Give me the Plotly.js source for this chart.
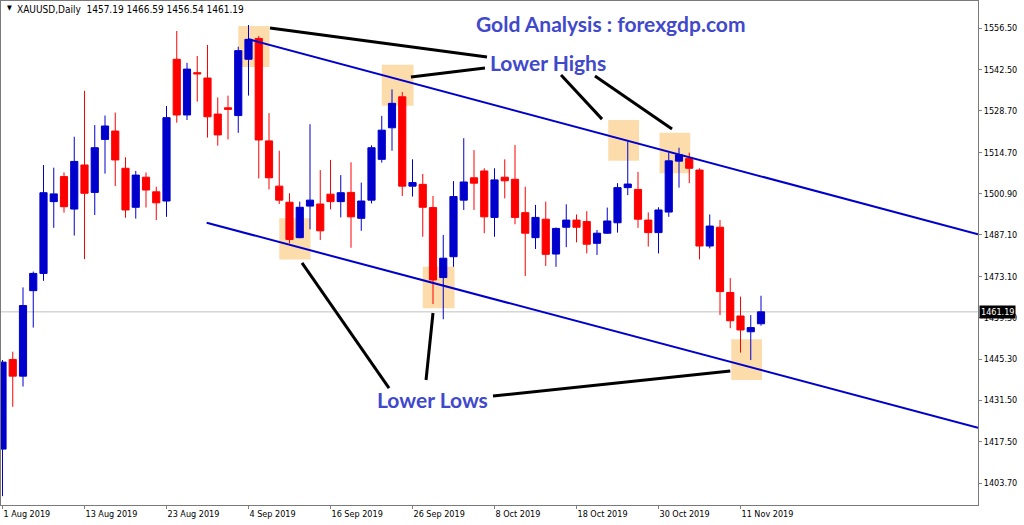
<!DOCTYPE html>
<html><head><meta charset="utf-8">
<script src="https://cdn.plot.ly/plotly-3.0.1.min.js"></script>
<style>html,body{margin:0;padding:0;background:#fff}#chart{width:1024px;height:525px}</style>
</head><body><div id="chart"></div>
<script>
const dates = ['2019-08-01','2019-08-02','2019-08-05','2019-08-06','2019-08-07','2019-08-08','2019-08-09',
  '2019-08-12','2019-08-13','2019-08-14','2019-08-15','2019-08-16','2019-08-19','2019-08-20','2019-08-21',
  '2019-08-22','2019-08-23','2019-08-26','2019-08-27','2019-08-28','2019-08-29','2019-08-30','2019-09-02',
  '2019-09-03','2019-09-04','2019-09-05','2019-09-06','2019-09-09','2019-09-10','2019-09-11','2019-09-12',
  '2019-09-13','2019-09-16','2019-09-17','2019-09-18','2019-09-19','2019-09-20','2019-09-23','2019-09-24',
  '2019-09-25','2019-09-26','2019-09-27','2019-09-30','2019-10-01','2019-10-02','2019-10-03','2019-10-04',
  '2019-10-07','2019-10-08','2019-10-09','2019-10-10','2019-10-11','2019-10-14','2019-10-15','2019-10-16',
  '2019-10-17','2019-10-18','2019-10-21','2019-10-22','2019-10-23','2019-10-24','2019-10-25','2019-10-28',
  '2019-10-29','2019-10-30','2019-10-31','2019-11-01','2019-11-04','2019-11-05','2019-11-06','2019-11-07',
  '2019-11-08','2019-11-11','2019-11-12','2019-11-13'];
const opens = [1415.1,1445.2,1439.6,1468.3,1474.1,1498.2,1506.6,1495.7,1510.5,1501.3,1519.1,1521.9,1509.4,
  1496.3,1506.4,1501.5,1498.4,1546.0,1527.3,1541.5,1539.7,1527.6,1529.7,1527.1,1546.0,1553.0,1518.6,1503.4,
  1498.0,1486.1,1496.7,1497.4,1500.7,1498.2,1501.3,1492.6,1498.7,1512.4,1523.0,1533.4,1503.4,1504.0,1496.2,
  1472.7,1479.7,1498.7,1506.2,1508.5,1492.9,1506.4,1505.7,1494.5,1486.1,1492.3,1480.6,1489.6,1492.0,1491.5,
  1484.2,1487.6,1491.1,1502.9,1502.3,1492.0,1487.8,1494.7,1511.8,1512.7,1508.8,1483.3,1489.6,1467.7,1459.8,
  1454.5,1457.19];
const highs = [1445.0,1447.8,1469.4,1474.7,1510.5,1509.6,1508.0,1520.0,1535.4,1523.9,1527.1,1528.1,1513.1,
  1508.5,1508.0,1503.2,1530.3,1555.5,1544.8,1547.1,1550.8,1533.2,1533.8,1550.2,1557.5,1553.8,1527.9,1515.3,
  1501.0,1498.2,1524.2,1508.8,1512.2,1507.1,1511.4,1504.6,1517.1,1527.0,1535.9,1535.0,1512.4,1507.5,1500.1,
  1487.0,1505.1,1519.5,1515.5,1509.4,1509.4,1512.4,1517.2,1503.2,1497.1,1498.2,1489.5,1497.3,1493.9,1495.0,
  1488.7,1496.2,1504.4,1518.3,1508.2,1494.6,1496.3,1514.6,1516.3,1514.6,1509.4,1493.9,1492.0,1472.5,1466.3,
  1460.1,1466.59];
const lows = [1399.3,1429.3,1436.1,1455.9,1471.6,1489.4,1494.5,1486.8,1478.9,1493.7,1507.6,1503.4,1492.8,
  1492.5,1496.2,1492.0,1493.1,1524.7,1525.6,1531.8,1519.7,1517.0,1519.1,1521.3,1533.8,1506.0,1502.3,1497.4,
  1484.2,1485.9,1488.9,1485.3,1495.6,1492.9,1482.7,1488.4,1497.6,1511.3,1515.3,1500.1,1499.9,1486.4,1463.8,
  1458.7,1476.3,1495.4,1495.4,1487.6,1486.4,1499.3,1490.6,1473.2,1482.3,1476.6,1476.3,1482.9,1484.5,1480.8,
  1480.3,1487.4,1487.8,1500.4,1489.4,1483.1,1480.8,1493.1,1502.9,1504.4,1478.8,1482.5,1460.1,1455.7,1447.5,
  1445.0,1456.54];
const closes = [1444.3,1439.6,1463.3,1474.1,1501.2,1500.8,1496.5,1511.7,1501.0,1516.3,1523.6,1512.2,1495.4,
  1507.1,1502.1,1497.8,1526.4,1527.3,1542.7,1541.1,1526.7,1520.6,1529.2,1548.9,1552.7,1518.9,1506.2,1498.7,
  1485.5,1496.3,1498.7,1488.4,1498.2,1501.2,1493.1,1498.4,1516.3,1522.2,1531.2,1503.4,1504.6,1496.3,1471.9,
  1479.2,1499.9,1504.8,1504.4,1493.1,1505.5,1505.2,1492.9,1487.6,1492.9,1480.5,1489.2,1492.0,1489.6,1483.9,
  1487.6,1491.7,1502.9,1504.1,1492.3,1487.8,1495.4,1511.9,1513.9,1509.4,1483.3,1490.0,1468.0,1458.2,1455.1,
  1455.9,1461.19];
const xTickDates = ['2019-08-01','2019-08-13','2019-08-23','2019-09-04','2019-09-16','2019-09-26',
  '2019-10-08','2019-10-18','2019-10-30','2019-11-11'];
const xTickLabels = ['1 Aug 2019','13 Aug 2019','23 Aug 2019','4 Sep 2019','16 Sep 2019','26 Sep 2019',
  '8 Oct 2019','18 Oct 2019','30 Oct 2019','11 Nov 2019'];
const yTickValues = [1556.50,1542.50,1528.70,1514.70,1500.90,1487.10,1473.10,1459.30,1445.30,1431.50,1417.50,1403.70];
const symbolName = 'XAUUSD,Daily';

const last = closes.length - 1;
const fontFam = '"DejaVu Sans Condensed","DejaVu Sans",sans-serif';
const tickFont = {family: fontFam, size: 9, color: '#000'};
const markColor = '#4048cc';
const noteFont = {family: 'Lato, "Open Sans", sans-serif', size: 21, color: markColor, weight: 'bold'};

const trace = {
  type: 'candlestick', x: dates, open: opens, high: highs, low: lows, close: closes,
  increasing: {line: {color: '#0000cd', width: 1}, fillcolor: '#0000cd'},
  decreasing: {line: {color: '#ff0000', width: 1}, fillcolor: '#ff0000'},
  whiskerwidth: 0, hoverinfo: 'skip', showlegend: false
};

const boxFill = 'rgb(253,220,172)';
const highlightBoxes = [[23.0,26.05,1543.4,1557.2],[37.0,40.1,1530.4,1544.2],[59.1,62.1,1511.9,1525.6],
  [64.1,67.1,1507.7,1521.3],[27.0,30.05,1478.8,1492.6],[41.0,44.1,1462.4,1476.3],[71.1,74.1,1438.3,1452.0]];
const channelLines = [[24.0,1552.7,95.17,1487.2],[19.92,1491.1,95.17,1422.3]];
const pointerLines = [[26.1,1556.5,47.27,1546.8],[39.85,1540.05,47.07,1543.07],[54.49,1540.7,58.49,1525.9],
  [57.8,1540.4,65.32,1522.6],[29.22,1477.6,37.71,1435.6],[42.0,1460.8,41.32,1438.3],[47.85,1432.9,71.0,1441.3]];

const shapes = [];
highlightBoxes.forEach(b => shapes.push({type:'rect', xref:'x', yref:'y', x0:b[0], x1:b[1], y0:b[2], y1:b[3],
  fillcolor: boxFill, line:{width:0}, layer:'below'}));
shapes.push({type:'line', xref:'paper', yref:'y', x0:0, x1:1, y0:closes[last], y1:closes[last],
  line:{color:'#c0c0c0', width:1}, layer:'below'});
channelLines.forEach(l => shapes.push({type:'line', xref:'x', yref:'y', x0:l[0], y0:l[1], x1:l[2], y1:l[3],
  line:{color:'#0000cc', width:2}}));
pointerLines.forEach(l => shapes.push({type:'line', xref:'x', yref:'y', x0:l[0], y0:l[1], x1:l[2], y1:l[3],
  line:{color:'#000000', width:3}}));

const header = symbolName + '  ' + [opens[last], highs[last], lows[last], closes[last]].map(v => v.toFixed(2)).join(' ');

const annotations = [
  {xref:'paper', yref:'paper', x:0.004, y:0.986, text:'▼', showarrow:false, xanchor:'left', yanchor:'middle',
   font:{family:fontFam, size:7, color:'#000'}},
  {xref:'paper', yref:'paper', x:0.0143, y:0.984, text:header, showarrow:false, xanchor:'left', yanchor:'middle',
   font:{family:fontFam, size:10, color:'#000'}},
  {xref:'paper', yref:'paper', x:0.624, y:0.9563, text:'Gold Analysis : forexgdp.com', showarrow:false,
   xanchor:'center', yanchor:'middle', font:noteFont},
  {xref:'paper', yref:'paper', x:0.5594, y:0.878, text:'Lower Highs', showarrow:false, xanchor:'center', yanchor:'middle', font:noteFont},
  {xref:'paper', yref:'paper', x:0.4417, y:0.2103, text:'Lower Lows', showarrow:false, xanchor:'center', yanchor:'middle', font:noteFont},
  {xref:'paper', yref:'y', x:1, y:closes[last], text:closes[last].toFixed(2), showarrow:false, xanchor:'left', yanchor:'middle',
   xshift:1, bgcolor:'#000', borderpad:1, font:{family:fontFam, size:9, color:'#fff'}}
];

const layout = {
  width: 1024, height: 525,
  margin: {l:1, r:46, t:1, b:20, pad:0},
  paper_bgcolor: '#fff', plot_bgcolor: '#fff',
  showlegend: false, hovermode: false, dragmode: false,
  boxgap: 0.3, boxgroupgap: 0,
  xaxis: {type:'category', range:[-0.146, 95.17], rangeslider:{visible:false}, showgrid:false, zeroline:false,
    tickmode:'array', tickvals:xTickDates, ticktext:xTickLabels, ticks:'outside', ticklen:3, tickcolor:'#808080',
    ticklabelposition:'outside right', tickfont:tickFont, showline:true, mirror:true, linecolor:'#7a7a7a', linewidth:1,
    fixedrange:true},
  yaxis: {side:'right', range:[1396.33, 1565.57], showgrid:false, zeroline:false, tickmode:'array',
    tickvals:yTickValues, ticktext:yTickValues.map(v => v.toFixed(2)), ticks:'outside', ticklen:3, tickcolor:'#808080',
    tickfont:tickFont, showline:true, mirror:true, linecolor:'#7a7a7a', linewidth:1, fixedrange:true},
  shapes: shapes, annotations: annotations
};

Plotly.newPlot('chart', [trace], layout, {displayModeBar:false, staticPlot:true});
</script></body></html>
